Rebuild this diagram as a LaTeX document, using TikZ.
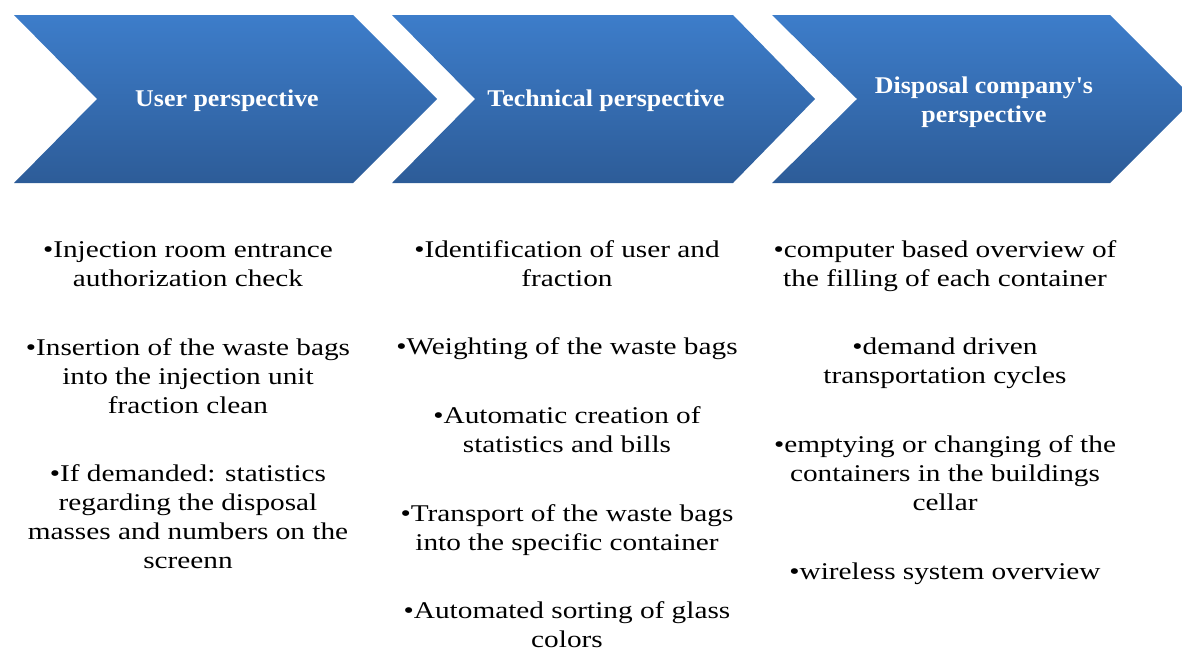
\documentclass[tikz,border=0pt]{standalone}
\usepackage{fontspec}
\setmainfont{Liberation Serif}
\newfontfamily\bodyfont[FakeStretch=1.22]{Liberation Serif}
\newfontfamily\headfont[FakeStretch=1.08]{Liberation Serif}
\definecolor{chevtop}{RGB}{61,125,202}
\definecolor{chevbot}{RGB}{45,92,152}
\begin{document}
\begin{tikzpicture}[x=1pt,y=-1pt,
  chevron/.style={top color=chevtop,bottom color=chevbot,draw=none},
  headlabel/.style={text=white,align=center,inner sep=0pt,anchor=base,
    font=\headfont\bfseries\fontsize{24}{29}\selectfont},
  item/.style={text=black,align=center,inner sep=0pt,anchor=base,
    font=\bodyfont\fontsize{24}{29}\selectfont}]
\useasboundingbox (0,0) rectangle (1182,648);

% process chevrons (the base anchor of a label sits on its last line)
\path[chevron] (14,15) -- (353,15) -- (437,99) -- (353,183) -- (14,183) -- (97,99) -- cycle;
\path[chevron] (392,15) -- (733,15) -- (815,99) -- (733,183) -- (392,183) -- (475,99) -- cycle;
\path[chevron] (772,15) -- (1110,15) -- (1194,99) -- (1110,183) -- (772,183) -- (857,99) -- cycle;

\node[headlabel] (h1) at (227,106) {User perspective};
\node[headlabel] (h2) at (606,106) {Technical perspective};
\node[headlabel] (h3) at (984,122) {Disposal company's\\perspective};

% user perspective
\node[item] (u1) at (188,286) {•Injection room entrance\\authorization check};
\node[item] (u2) at (188,413) {•Insertion of the waste bags\\into the injection unit\\fraction clean};
\node[item] (u3) at (188,568) {•If demanded: statistics\\regarding the disposal\\masses and numbers on the\\screenn};

% technical perspective
\node[item] (t1) at (567,286) {•Identification of user and\\fraction};
\node[item] (t2) at (567,354) {•Weighting of the waste bags};
\node[item] (t3) at (567,452) {•Automatic creation of\\statistics and bills};
\node[item] (t4) at (567,550) {•Transport of the waste bags\\into the specific container};
\node[item] (t5) at (567,647) {•Automated sorting of glass\\colors};

% disposal company's perspective
\node[item] (d1) at (945,286) {•computer based overview of\\the filling of each container};
\node[item] (d2) at (945,383) {•demand driven\\transportation cycles};
\node[item] (d3) at (945,510) {•emptying or changing of the\\containers in the buildings\\cellar};
\node[item] (d4) at (945,579) {•wireless system overview};
\end{tikzpicture}
\end{document}
